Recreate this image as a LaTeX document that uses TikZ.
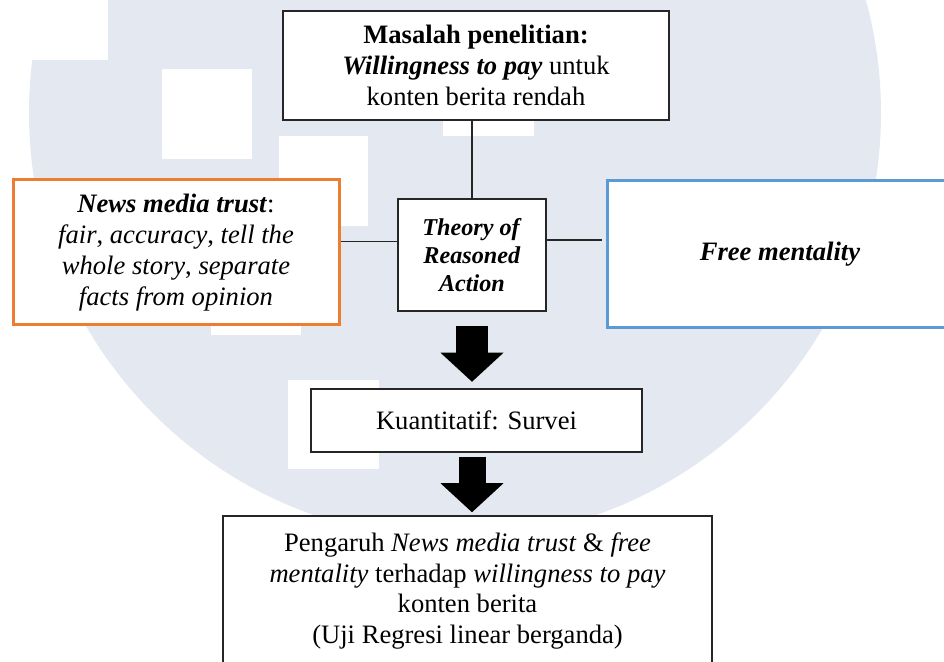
\documentclass[tikz,border=0pt]{standalone}
\usepackage{fontspec}
\setmainfont{LiberationSerif}[
  Extension=.ttf,
  UprightFont=*-Regular,
  BoldFont=*-Bold,
  ItalicFont=*-Italic,
  BoldItalicFont=*-BoldItalic]
\usepackage{xcolor}
\usetikzlibrary{arrows.meta, positioning}
\definecolor{wmgrey}{RGB}{228,232,240}
\definecolor{trustorange}{RGB}{237,125,49}
\definecolor{freeblue}{RGB}{91,155,213}
\newcommand{\bodysize}{\fontsize{13.3}{15.4}\selectfont}
\newcommand{\trasize}{\fontsize{12.1}{13.9}\selectfont}
\tikzset{
  box/.style={rectangle, draw=black!85, line width=0.75pt, fill=white,
              align=center, font=\bodysize, inner sep=2pt},
  trustbox/.style={box, draw=trustorange, line width=1.5pt},
  freebox/.style={box, draw=freeblue, line width=1.5pt},
  link/.style={line width=0.6pt, draw=black!85},
  bigarrow/.style={line width=15.75pt,
                   -{Triangle[length=14.5pt, width=31.5pt, line width=0pt]}},
}

\begin{document}
\begin{tikzpicture}[x=0.5pt, y=-0.5pt]
  \clip (0,0) rectangle (944,662);
  \fill[wmgrey] (455,113) circle[radius=426];
  \foreach \xa/\ya/\xb/\yb in {0/0/108/60, 162/69/252/159, 279/136/368/226,
                               211/245/301/335, 288/380/379/469, 443/46/534/136}
    \fill[white] (\xa,\ya) rectangle (\xb,\yb);

  \node[box, minimum width=193pt, minimum height=54.5pt] (masalah) at (476,65.5)
    {\textbf{Masalah penelitian:}\\\textbf{\textit{Willingness to pay}} untuk\\konten berita rendah};
  \node[box, font=\trasize, minimum width=74pt, minimum height=56pt] (tra) at (472,255)
    {\textbf{\textit{Theory of}}\\\textbf{\textit{Reasoned}}\\\textbf{\textit{Action}}};
  \node[trustbox, minimum width=163pt, minimum height=72.5pt] (trust) at (176,252.5)
    {\textbf{\textit{News media trust}}:\\\textit{fair}, \textit{accuracy}, \textit{tell the}\\
     \textit{whole story}, \textit{separate}\\\textit{facts from opinion}};
  \node[freebox, minimum width=173pt, minimum height=73.5pt] (free) at (780,254.5)
    {\textbf{\textit{Free mentality}}};
  \node[box, minimum width=165.5pt, minimum height=31.5pt] (survei) at (476.5,420.5)
    {Kuantitatif: Survei};
  \node[box, minimum width=244.5pt, minimum height=75pt] (hasil) at (467.5,591)
    {Pengaruh \textit{News media trust} \& \textit{free}\\\textit{mentality} terhadap \textit{willingness to pay}\\
     konten berita\\(Uji Regresi linear berganda)};

  \draw[link] (masalah.south -| tra.north) -- (tra.north);
  \draw[link] ([yshift=6.75pt]tra.west) -- ([yshift=6.75pt]tra.west -| trust.east);
  \draw[link, shorten >=2pt] ([yshift=7.5pt]tra.east) -- ([yshift=7.5pt]tra.east -| free.west);
  \draw[bigarrow, shorten <=7pt, shorten >=3.25pt] (tra.south) -- (tra.south |- survei.north);
  \draw[bigarrow, line width=13.5pt, shorten <=2pt, shorten >=1.5pt]
    (survei.south -| tra.south) -- (tra.south |- hasil.north);
\end{tikzpicture}
\end{document}
